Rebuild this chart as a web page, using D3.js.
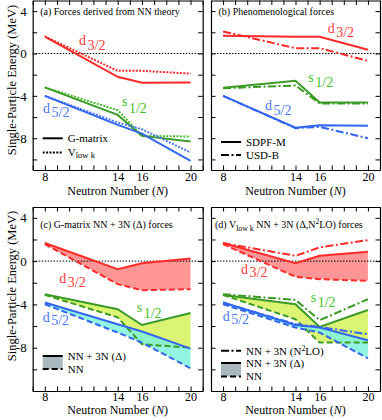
<!DOCTYPE html>
<html>
<head>
<meta charset="utf-8">
<script src="https://cdn.jsdelivr.net/npm/d3@7"></script>
<style>
  body { margin: 0; background: #fff; }
  svg { display: block; }
  svg text { font-family: "Liberation Serif", "Times New Roman", Times, "DejaVu Serif", serif; }
</style>
</head>
<body>
<svg id="chart" width="382" height="420"></svg>
<script>
// neutron numbers where energies are given
const neutronNumbers = [8, 14, 16, 20];
const xTickLabels = [8, 14, 16, 20];
const yTickLabels = [-8, -4, 0, 4];

// (a) forces from NN theory
const aD32G = [1.6, -2.2, -2.77, -2.74];
const aD32V = [1.6, -1.64, -1.64, -1.9];
const aS12G = [-3.2, -5.8, -7.78, -8.3];
const aS12V = [-3.2, -5.35, -7.78, -7.84];
const aD52G = [-4.0, -6.74, -7.56, -10.14];
const aD52V = [-4.0, -6.52, -7.15, -9.35];

// (b) phenomenological
const bD32S = [1.67, 1.57, 1.57, 0.35];
const bD32U = [2.08, 0.5, 0.5, -0.7];
const bS12S = [-3.24, -2.58, -4.63, -4.63];
const bS12U = [-3.28, -3.02, -4.72, -4.72];
const bD52S = [-4.0, -7.0, -6.77, -6.83];
const bD52U = [-4.0, -7.05, -6.93, -8.0];

// (c) G-matrix NN vs NN + 3N(delta)
const cD32NN = [1.57, -2.13, -2.69, -2.59];
const cD323N = [1.67, -0.74, -0.19, 0.25];
const cS12NN = [-3.12, -5.2, -7.68, -8.0];
const cS123N = [-3.06, -4.44, -5.9, -4.8];
const cD52NN = [-3.98, -6.6, -7.53, -9.9];
const cD523N = [-3.83, -5.83, -6.5, -8.09];

// (d) Vlowk NN, NN + 3N(delta), NN + 3N(N2LO)
const dD32NN = [1.57, -1.45, -1.67, -1.82];
const dD32D = [1.67, -0.19, 0.49, 0.86];
const dD32N2 = [1.67, 0.49, 1.27, 1.94];
const dS12NN = [-3.12, -5.37, -7.53, -7.53];
const dS12D = [-3.12, -3.98, -6.08, -4.51];
const dS12N2 = [-3.06, -3.58, -5.46, -3.52];
const dD52NN = [-3.98, -6.14, -6.6, -8.98];
const dD52D = [-3.83, -5.9, -6.14, -7.31];
const dD52N2 = [-3.83, -5.83, -6.08, -6.76];

const RED = "#ff2b2b", GREEN = "#3c9a26", BLUE = "#3366ee";
const RED_L = "#ff3a3a", GREEN_L = "#46bf2c", BLUE_L = "#4a78ff";
const FILL_R = "#ff8484", FILL_G = "#d5f25c", FILL_B = "#7ff2dc";
const DASH = { solid: null, dot: "2,1.4", dash: "6,3", dashdot: "8,2.5,2,2.5" };

const svg = d3.select("#chart");

const panels = [
  { key: "a", left: 32.7, width: 170, top: 0.5, bottom: 170, ydom: [-11, 5],
    title: [["(a) Forces derived from NN theory"]],
    lines: [
      [aD32V, RED, "dot"], [aD32G, RED, "solid"],
      [aS12V, GREEN_L, "dot"], [aS12G, GREEN, "solid"],
      [aD52V, BLUE_L, "dot"], [aD52G, BLUE, "solid"]],
    fills: [],
    labels: [[79, 45, "d", "3/2", RED_L, 5], [122, 106, "s", "1/2", GREEN_L, 7], [43, 113, "d", "5/2", BLUE_L, 4]],
    legend: [[138.3, "solid", [["G-matrix"]], 142], [152.5, "dot", [["V"], ["low k", "sub"]], 155.5]],
    box: null },
  { key: "b", left: 211, width: 169, top: 0.5, bottom: 170, ydom: [-11, 5],
    title: [["(b) Phenomenological forces"]],
    lines: [
      [bD32U, RED, "dashdot"], [bD32S, RED, "solid"],
      [bS12U, GREEN, "dashdot"], [bS12S, GREEN, "solid"],
      [bD52U, BLUE, "dashdot"], [bD52S, BLUE, "solid"]],
    fills: [],
    labels: [[327.7, 33, "d", "3/2", RED_L, 4], [308.3, 82, "s", "1/2", GREEN_L, 5], [265, 110, "d", "5/2", BLUE_L, 5]],
    legend: [[142, "solid", [["SDPF-M"]], 146], [155, "dashdot", [["USD-B"]], 158.5]],
    box: null },
  { key: "c", left: 32.7, width: 170, top: 207, bottom: 391, ydom: [-12, 5],
    title: [["(c) G-matrix NN + 3N (\u0394) forces"]],
    lines: [
      [cD32NN, RED, "dash"], [cD323N, RED, "solid"],
      [cS12NN, GREEN, "dash"], [cS123N, GREEN, "solid"],
      [cD52NN, BLUE, "dash"], [cD523N, BLUE, "solid"]],
    fills: [[cD32NN, cD323N, FILL_R], [cS12NN, cS123N, FILL_G], [cD52NN, cD523N, FILL_B]],
    labels: [[59.3, 283, "d", "3/2", RED_L, 4], [136.7, 311.5, "s", "1/2", GREEN_L, 6], [42.7, 321.5, "d", "5/2", BLUE_L, 3]],
    legend: [[356, "solid", [["NN + 3N (\u0394)"]], 360], [369, "dash", [["NN"]], 373]],
    box: [356, 369] },
  { key: "d", left: 211, width: 169, top: 207, bottom: 391, ydom: [-12, 5],
    title: [["(d) V"], ["low k", "sub"], [" NN + 3N (\u0394,N"], ["2", "sup"], ["LO) forces"]],
    lines: [
      [dD32NN, RED, "dash"], [dD32D, RED, "solid"], [dD32N2, RED, "dashdot"],
      [dS12NN, GREEN, "dash"], [dS12D, GREEN, "solid"], [dS12N2, GREEN, "dashdot"],
      [dD52NN, BLUE, "dash"], [dD52D, BLUE, "solid"], [dD52N2, BLUE, "dashdot"]],
    fills: [[dD32NN, dD32D, FILL_R], [dS12NN, dS12D, FILL_G], [dD52NN, dD52D, FILL_B]],
    labels: [[241, 274, "d", "3/2", RED_L, 3], [310.7, 301.5, "s", "1/2", GREEN_L, 5], [222.7, 320.5, "d", "5/2", BLUE_L, 3]],
    legend: [[350.7, "dashdot", [["NN + 3N (N"], ["2", "sup"], ["LO)"]], 355], [363, "solid", [["NN + 3N (\u0394)"]], 367], [376.5, "dash", [["NN"]], 380]],
    box: [363, 376.5] }
];

// text with sub/superscript pieces; dy is relative so keep track of the shift
function addRich(sel, parts, size) {
  let cur = 0;
  parts.forEach(([txt, kind]) => {
    const target = kind === "sub" ? 2.5 : kind === "sup" ? -4 : 0;
    const t = sel.append("tspan").text(txt).attr("dy", target - cur);
    if (kind) t.attr("font-size", size * (kind === "sub" ? 0.78 : 0.72));
    cur = target;
  });
}

panels.forEach(p => {
  const x = d3.scaleLinear().domain([7, 21]).range([p.left, p.left + p.width]);
  const y = d3.scaleLinear().domain(p.ydom).range([p.bottom, p.top]);
  const g = svg.append("g").attr("class", "panel-" + p.key);
  const topRow = p.key === "a" || p.key === "b";

  // shaded differences
  p.fills.forEach(([lo, hi, col]) => {
    const area = d3.area()
      .x((d, i) => x(neutronNumbers[i]))
      .y0((d, i) => y(lo[i]))
      .y1((d, i) => y(hi[i]));
    g.append("path").datum(lo).attr("d", area).attr("fill", col).attr("fill-opacity", 0.85);
  });

  // zero line
  g.append("line")
    .attr("x1", x(7)).attr("x2", x(21))
    .attr("y1", y(0)).attr("y2", y(0))
    .attr("stroke", "#000").attr("stroke-width", 1).attr("stroke-dasharray", "1.5,1.5");

  const line = d3.line().x((d, i) => x(neutronNumbers[i])).y(d => y(d));
  p.lines.forEach(([vals, col, style]) => {
    g.append("path").datum(vals)
      .attr("d", line)
      .attr("fill", "none")
      .attr("stroke", col)
      .attr("stroke-width", 2)
      .attr("stroke-dasharray", DASH[style]);
  });

  // axes, ticks inward on all four sides
  const xt = d3.range(7, 22);
  const yt = d3.range(Math.ceil(p.ydom[0] / 2) * 2, p.ydom[1] + 0.1, 2);
  const axStyle = a => {
    a.selectAll("path").attr("stroke-width", 1.2);
    a.selectAll("line").attr("stroke-width", 1);
  };
  g.append("g").attr("transform", `translate(0,${p.bottom})`)
    .call(d3.axisBottom(x).tickValues(xt).tickSize(-4.5).tickSizeOuter(0).tickPadding(topRow ? 2 : 1)
      .tickFormat(d => xTickLabels.includes(d) ? String(d) : ""))
    .call(axStyle)
    .call(a => a.selectAll("text").attr("font-size", 12).attr("fill", "#000"));
  g.append("g").attr("transform", `translate(0,${p.top})`)
    .call(d3.axisTop(x).tickValues(xt).tickSize(-4.5).tickSizeOuter(0).tickFormat(""))
    .call(axStyle);
  g.append("g").attr("transform", `translate(${p.left},0)`)
    .call(d3.axisLeft(y).tickValues(yt).tickSize(-4.5).tickSizeOuter(0).tickPadding(6)
      .tickFormat(d => (p.key === "a" || p.key === "c") && yTickLabels.includes(d) ? String(d) : ""))
    .call(axStyle)
    .call(a => a.selectAll("text").attr("font-size", 13).attr("fill", "#000"));
  g.append("g").attr("transform", `translate(${p.left + p.width},0)`)
    .call(d3.axisRight(y).tickValues(yt).tickSize(-4.5).tickSizeOuter(0).tickFormat(""))
    .call(axStyle);

  // x axis title
  g.append("text")
    .attr("x", p.left + p.width / 2)
    .attr("y", p.bottom + (topRow ? 24.5 : 23))
    .attr("text-anchor", "middle").attr("font-size", 12)
    .call(t => {
      t.append("tspan").text("Neutron Number (");
      t.append("tspan").text("N").attr("font-style", "italic");
      t.append("tspan").text(")");
    });

  // panel title
  const tt = g.append("text")
    .attr("x", p.left + (p.key === "d" ? 4 : 7.5))
    .attr("y", p.top + (topRow ? 14.5 : 21))
    .attr("font-size", 10);
  addRich(tt, p.title, 10);

  // orbital labels
  p.labels.forEach(([lx, ly, letter, sub, col, dy]) => {
    g.append("text").attr("x", lx).attr("y", ly).attr("fill", col).attr("font-size", 14)
      .call(t => {
        t.append("tspan").text(letter);
        t.append("tspan").text(sub).attr("dx", 1.5).attr("dy", dy);
      });
  });

  // legend
  const lx0 = p.left + 10, lx1 = p.left + 30;
  if (p.box) {
    g.append("rect").attr("x", lx0).attr("y", p.box[0])
      .attr("width", lx1 - lx0).attr("height", p.box[1] - p.box[0])
      .attr("fill", "#a9b9bd");
  }
  p.legend.forEach(([ly, style, parts, tb]) => {
    g.append("line").attr("x1", lx0).attr("x2", lx1).attr("y1", ly).attr("y2", ly)
      .attr("stroke", "#000").attr("stroke-width", 2).attr("stroke-dasharray", DASH[style]);
    const t = g.append("text").attr("x", lx1 + 5).attr("y", tb).attr("font-size", 11);
    addRich(t, parts, 11);
  });
});

// y axis titles
[80, 286].forEach(cy => {
  svg.append("text")
    .attr("transform", `translate(15.5,${cy}) rotate(-90)`)
    .attr("text-anchor", "middle").attr("font-size", 12.5)
    .text("Single-Particle Energy (MeV)");
});
</script>
</body>
</html>
